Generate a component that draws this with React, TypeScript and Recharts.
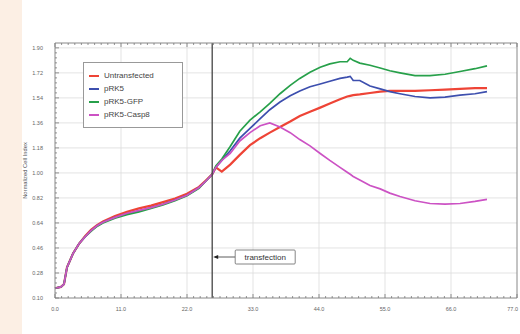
import React from 'react';
import { LineChart, Line, XAxis, YAxis, ReferenceLine, Legend } from 'recharts';

const hours = [0, 1, 1.5, 2, 3, 4, 5, 6, 7, 8, 10, 12, 14, 16, 18, 20, 22, 24, 25, 26.2,
  26.8, 27.8, 29.2, 30.8, 32.5, 34.2, 35.8, 37.5, 39.2, 40.8, 42.5, 44.2, 45.8, 47.5, 48.7, 49.2, 49.7, 50.8,
  52.5, 54.2, 55.8, 57.5, 60, 62.5, 65, 67.5, 70, 72];

const untransfected = [0.17, 0.18, 0.2, 0.32, 0.42, 0.49, 0.545, 0.59, 0.625, 0.65, 0.69, 0.72, 0.745, 0.765, 0.79, 0.815, 0.85, 0.9, 0.94, 0.99,
  1.04, 1.01, 1.06, 1.13, 1.2, 1.25, 1.29, 1.33, 1.37, 1.41, 1.44, 1.47, 1.5, 1.53, 1.55, 1.555, 1.56, 1.565,
  1.575, 1.585, 1.59, 1.59, 1.59, 1.595, 1.6, 1.605, 1.61, 1.61];
const pRK5 = [0.17, 0.18, 0.2, 0.32, 0.42, 0.49, 0.54, 0.585, 0.62, 0.645, 0.68, 0.705, 0.725, 0.75, 0.775, 0.805, 0.84, 0.895, 0.935, 0.99,
  1.04, 1.09, 1.16, 1.25, 1.32, 1.39, 1.455, 1.51, 1.555, 1.59, 1.62, 1.64, 1.66, 1.68, 1.69, 1.695, 1.665, 1.665,
  1.625, 1.605, 1.585, 1.57, 1.55, 1.54, 1.545, 1.56, 1.57, 1.585];
const pRK5GFP = [0.17, 0.18, 0.2, 0.32, 0.42, 0.49, 0.54, 0.58, 0.615, 0.64, 0.675, 0.7, 0.72, 0.745, 0.77, 0.8, 0.835, 0.89, 0.935, 0.99,
  1.05, 1.1, 1.19, 1.3, 1.38, 1.44, 1.5, 1.57, 1.63, 1.68, 1.725, 1.76, 1.785, 1.8, 1.8, 1.825, 1.81, 1.79,
  1.775, 1.755, 1.735, 1.72, 1.7, 1.7, 1.71, 1.73, 1.75, 1.77];
const pRK5Casp8 = [0.17, 0.18, 0.2, 0.32, 0.42, 0.49, 0.54, 0.585, 0.62, 0.645, 0.68, 0.71, 0.73, 0.75, 0.775, 0.805, 0.84, 0.895, 0.935, 0.99,
  1.04, 1.09, 1.14, 1.23, 1.29, 1.34, 1.36, 1.33, 1.29, 1.24, 1.195, 1.14, 1.09, 1.04, 1.005, 0.99, 0.975, 0.95,
  0.91, 0.885, 0.855, 0.83, 0.8, 0.78, 0.775, 0.78, 0.795, 0.81];

const xTicks = [0, 11, 22, 33, 44, 55, 66, 77];
const xTickLabels = ['0.0', '11.0', '22.0', '33.0', '44.0', '55.0', '66.0', '77.0'];
const yTicks = [0.1, 0.28, 0.46, 0.64, 0.82, 1.0, 1.18, 1.36, 1.54, 1.72, 1.9];
const yTickLabels = ['0.10', '0.28', '0.46', '0.64', '0.82', '1.00', '1.18', '1.36', '1.54', '1.72', '1.90'];
const transfectionHour = 26.2;

const series = [
  { key: 'untransfected', name: 'Untransfected', color: '#ee4436', values: untransfected, width: 2.2 },
  { key: 'pRK5', name: 'pRK5', color: '#3d4fae', values: pRK5, width: 1.7 },
  { key: 'pRK5GFP', name: 'pRK5-GFP', color: '#27a04a', values: pRK5GFP, width: 1.7 },
  { key: 'pRK5Casp8', name: 'pRK5-Casp8', color: '#cc52c4', values: pRK5Casp8, width: 1.7 },
];

const data = hours.map((h, i) => {
  const row: any = { h };
  series.forEach((s) => { row[s.key] = s.values[i]; });
  return row;
});

// minor tick positions (layout only)
const xMinor: number[] = [];
for (let i = 0; i <= 70; i++) xMinor.push(Math.round(i * 1.1 * 1000) / 1000);
const yMinor: number[] = [];
for (let i = 0; i <= 50; i++) yMinor.push(Math.round((0.1 + i * 0.036) * 10000) / 10000);

const FONT = '"Liberation Sans", Arial, sans-serif';
const majorIndex = (arr: number[], v: number) => arr.findIndex((t) => Math.abs(t - v) < 1e-6);

const BottomTick = (p: any) => {
  const v = p.payload.value;
  const mi = majorIndex(xTicks, v);
  const last = mi === xTicks.length - 1;
  return (
    <g>
      <line x1={p.x} x2={p.x} y1={298} y2={298 - (mi >= 0 ? 4 : 2)} stroke="#777" strokeWidth={0.8} />
      {mi >= 0 && (
        <text x={last ? p.x + 1 : p.x} y={311} textAnchor={last ? 'end' : 'middle'} fontSize={5.5} fill="#666" fontFamily={FONT}>
          {xTickLabels[mi]}
        </text>
      )}
    </g>
  );
};
const TopTick = (p: any) => {
  const v = p.payload.value;
  const mi = majorIndex(xTicks, v);
  return <line x1={p.x} x2={p.x} y1={43} y2={43 + (mi >= 0 ? 4 : 2)} stroke="#777" strokeWidth={0.8} />;
};
const LeftTick = (p: any) => {
  const v = p.payload.value;
  const mi = majorIndex(yTicks, v);
  return (
    <g>
      <line x1={55} x2={55 + (mi >= 0 ? 4 : 2)} y1={p.y} y2={p.y} stroke="#777" strokeWidth={0.8} />
      {mi >= 0 && (
        <text x={43} y={p.y + 2} textAnchor="end" fontSize={5.5} fill="#666" fontFamily={FONT}>
          {yTickLabels[mi]}
        </text>
      )}
    </g>
  );
};
const RightTick = (p: any) => {
  const v = p.payload.value;
  const mi = majorIndex(yTicks, v);
  return <line x1={517} x2={517 - (mi >= 0 ? 4 : 2)} y1={p.y} y2={p.y} stroke="#777" strokeWidth={0.8} />;
};

const YLabel = (p: any) => {
  const vb = p.viewBox || {};
  const cx = (vb.x || 0) + 27;
  const cy = (vb.y || 0) + (vb.height || 0) / 2;
  return (
    <text x={cx} y={cy} transform={`rotate(-90 ${cx} ${cy})`} textAnchor="middle" fontSize={5.8} fill="#555" fontFamily={FONT}>
      Normalized Cell Index
    </text>
  );
};

const TransfectionLabel = (p: any) => {
  const vb = p.viewBox || {};
  const x = vb.x || 0;
  const y = (vb.y || 0) + 214;
  return (
    <g>
      <line x1={x + 3} x2={x + 23} y1={y} y2={y} stroke="#333" strokeWidth={0.8} />
      <polygon points={`${x + 1},${y} ${x + 6},${y - 2} ${x + 6},${y + 2}`} fill="#222" />
      <rect x={x + 23} y={y - 7} width={60} height={14} fill="#fff" stroke="#666" strokeWidth={0.8} rx={1} />
      <text x={x + 53} y={y + 3} textAnchor="middle" fontSize={8} fill="#333" fontFamily={FONT}>transfection</text>
    </g>
  );
};

const LegendBox = () => (
  <div style={{ width: 100, height: 66, border: '1px solid #999', background: '#fff', boxSizing: 'border-box', paddingTop: 6, fontFamily: FONT }}>
    {series.map((s) => (
      <div key={s.key} style={{ display: 'flex', alignItems: 'center', height: 13, fontSize: 8, color: '#444' }}>
        <div style={{ width: 10, height: 2, background: s.color, marginLeft: 5, marginRight: 5, flexShrink: 0 }} />
        <span>{s.name}</span>
      </div>
    ))}
  </div>
);

export default function App() {
  return (
    <div style={{ position: 'absolute', left: 0, top: 0, width: 520, height: 334, background: '#fff' }}>
      <div style={{ position: 'absolute', left: 0, top: 0, width: 22, height: 334, background: '#fcefe4' }} />
      <div style={{ position: 'absolute', left: 0, top: 0 }}>
        <LineChart width={520} height={334} data={data} margin={{ top: 42, right: 2, bottom: 35, left: 0 }}>
          {xTicks.slice(1, -1).map((t) => (
            <ReferenceLine key={'gx' + t} x={t} stroke="#dcdcdc" strokeWidth={0.8} />
          ))}
          {yTicks.slice(1).map((t) => (
            <ReferenceLine key={'gy' + t} y={t} stroke="#dcdcdc" strokeWidth={0.8} />
          ))}
          <XAxis
            dataKey="h"
            type="number"
            domain={[0, 77]}
            ticks={xMinor}
            interval={0}
            height={1}
            tickSize={0}
            tickMargin={0}
            tickLine={false}
            tick={BottomTick}
            axisLine={{ stroke: '#888', strokeWidth: 1 }}
          />
          <XAxis
            xAxisId="top"
            orientation="top"
            dataKey="h"
            type="number"
            domain={[0, 77]}
            ticks={xMinor}
            interval={0}
            height={1}
            tickSize={0}
            tickMargin={0}
            tickLine={false}
            tick={TopTick}
            axisLine={{ stroke: '#888', strokeWidth: 1 }}
          />
          <YAxis
            type="number"
            domain={[0.1, 1.935]}
            ticks={yMinor}
            interval={0}
            width={55}
            tickSize={0}
            tickMargin={0}
            tickLine={false}
            tick={LeftTick}
            axisLine={{ stroke: '#888', strokeWidth: 1 }}
            label={<YLabel />}
          />
          <YAxis
            yAxisId="right"
            orientation="right"
            type="number"
            domain={[0.1, 1.935]}
            ticks={yMinor}
            interval={0}
            width={1}
            tickSize={0}
            tickMargin={0}
            tickLine={false}
            tick={RightTick}
            axisLine={{ stroke: '#888', strokeWidth: 1 }}
          />
          {series.map((s) => (
            <Line
              key={s.key}
              dataKey={s.key}
              name={s.name}
              stroke={s.color}
              strokeWidth={s.width}
              dot={false}
              type="linear"
              isAnimationActive={false}
            />
          ))}
          <ReferenceLine x={transfectionHour} stroke="#444" strokeWidth={1.3} label={<TransfectionLabel />} />
          <Legend
            layout="vertical"
            align="center"
            verticalAlign="middle"
            content={<LegendBox />}
            wrapperStyle={{ left: 83, top: 62, width: 100, height: 66 }}
          />
        </LineChart>
      </div>
    </div>
  );
}
